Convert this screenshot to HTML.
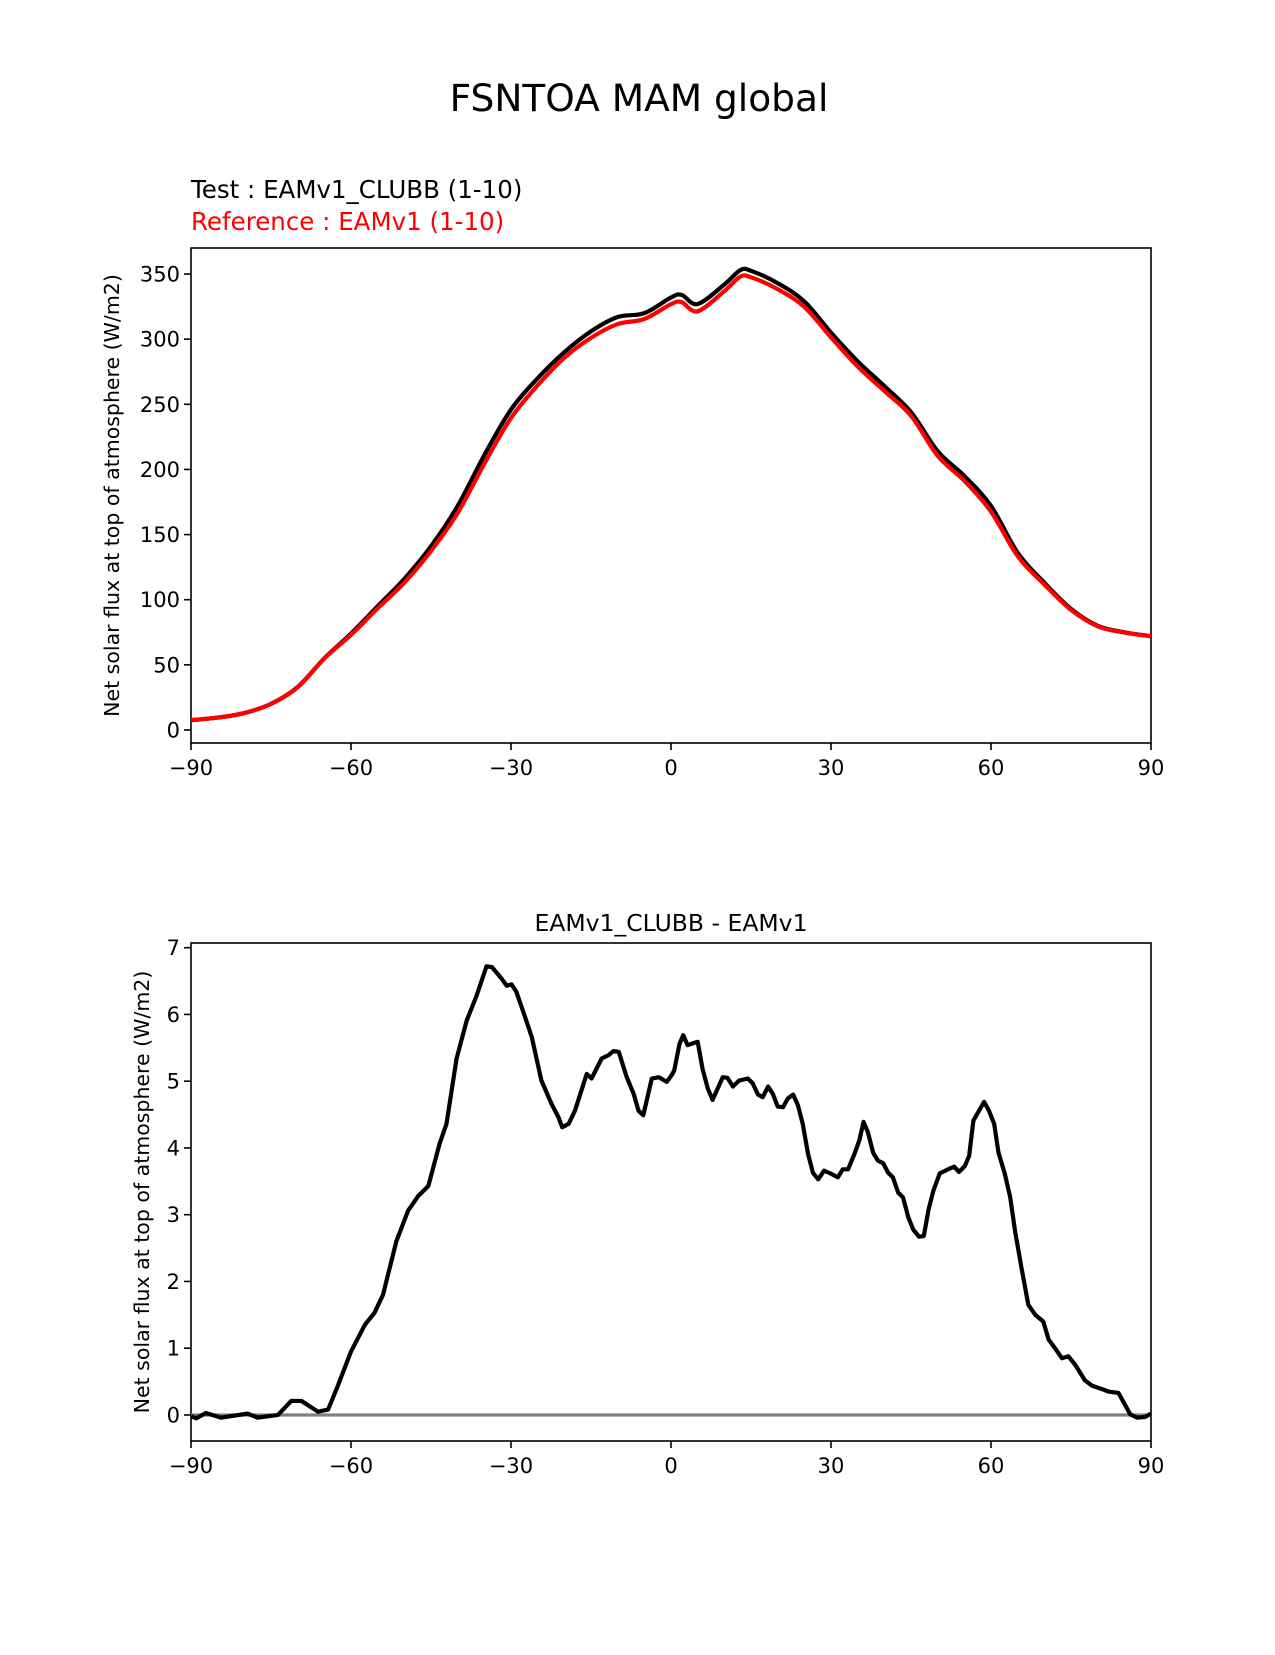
<!DOCTYPE html>
<html><head><meta charset="utf-8"><style>
html,body{margin:0;padding:0;background:#fff}
svg text{font-family:"DejaVu Sans","Liberation Sans",sans-serif}
</style></head><body>
<svg id="fig" width="1275" height="1650" viewBox="0 0 1275 1650" xmlns="http://www.w3.org/2000/svg">
<rect width="1275" height="1650" fill="#fff"/>
<text x="639" y="111" font-size="37.5" text-anchor="middle">FSNTOA MAM global</text>
<text x="191" y="198" font-size="24.5" fill="#000">Test : EAMv1_CLUBB (1-10)</text>
<text x="191" y="230" font-size="24.5" fill="#f00">Reference : EAMv1 (1-10)</text>
<text x="671" y="931" font-size="23.5" text-anchor="middle">EAMv1_CLUBB - EAMv1</text>
<g id="top"></g>
<g id="bot"></g>
</svg>
<script>
const latTop = [-90,-85,-80,-75,-70,-65,-60,-55,-50,-45,-40,-35,-30,-25,-20,-15,-10,-5,0,2,5,10,13,15,20,25,30,35,40,45,50,55,60,65,70,75,80,85,90];
const testVals = [7.5,9.5,13,20,33,55,74,95,116,141,172,211,246,270,290,306,317,320,332,334,327,342,353,352.5,343,329,305,283,264,244,214,195,172,136,113,93,80,75,72];
const refVals = [7.5,9.5,13,20,32.8,54.9,73.0,93.4,113.1,137.4,166.6,204.4,239.5,264.6,285.7,301.0,311.6,315.5,326.9,328.4,321.4,336.9,348.0,347.5,338.4,324.8,301.4,279.0,260.3,241.2,210.5,191.3,167.6,133.5,111.7,92.2,79.6,74.8,72.0];
const latDiff = [-90,-89,-87.2,-84.4,-79.4,-77.5,-73.7,-71.2,-69.3,-66.2,-64.3,-62.4,-60,-57.4,-55.6,-54,-51.5,-49.3,-47.4,-45.5,-43.4,-42.1,-40.2,-38.3,-36.5,-34.6,-33.6,-31.8,-30.8,-29.9,-29,-27.7,-26.1,-24.3,-22.4,-21.1,-20.4,-19.2,-18,-15.8,-14.9,-13,-11.7,-10.8,-9.8,-8.3,-7,-6.1,-5.2,-3.6,-2.3,-0.8,0.2,0.6,1.6,2.3,3.1,5,5.9,6.9,7.8,9.7,10.6,11.6,12.8,14.4,15.3,16.3,17.2,18.2,19.1,20,21,21.9,22.9,23.8,24.7,25.7,26.6,27.6,28.7,30.1,31.3,32.2,33.2,34.4,35.3,36.1,36.9,37.9,38.8,39.8,40.7,41.6,42.6,43.5,44.5,45.4,46.5,47.4,48.3,49.2,50.4,51.7,53.1,54,55.1,55.9,56.7,58.7,59.6,60.6,61.4,62.6,63.6,64.5,65.7,67,68.3,69.8,70.8,72,73.3,74.5,75.8,77.6,78.9,81.1,82,83.9,84.8,86.1,87.4,88.9,90];
const diffVals = [-0.02,-0.05,0.03,-0.04,0.02,-0.04,0,0.21,0.21,0.05,0.08,0.45,0.95,1.35,1.53,1.8,2.6,3.06,3.28,3.43,4.06,4.36,5.34,5.91,6.27,6.72,6.71,6.54,6.43,6.45,6.34,6.04,5.66,5.01,4.66,4.46,4.31,4.36,4.56,5.11,5.04,5.34,5.39,5.45,5.44,5.06,4.81,4.56,4.49,5.04,5.06,4.99,5.1,5.16,5.56,5.69,5.54,5.59,5.19,4.89,4.72,5.06,5.05,4.92,5.01,5.04,4.97,4.8,4.76,4.92,4.81,4.62,4.61,4.74,4.8,4.64,4.36,3.91,3.63,3.53,3.66,3.61,3.56,3.68,3.68,3.91,4.11,4.39,4.24,3.93,3.81,3.77,3.63,3.56,3.33,3.26,2.96,2.78,2.67,2.68,3.08,3.36,3.62,3.67,3.72,3.64,3.73,3.88,4.41,4.69,4.56,4.36,3.93,3.61,3.26,2.76,2.21,1.65,1.5,1.4,1.13,1.0,0.85,0.88,0.75,0.52,0.44,0.38,0.35,0.33,0.2,0.01,-0.04,-0.03,0.02];
const xTicks = [-90,-60,-30,0,30,60,90];
const xTickLabels = ["\u221290","\u221260","\u221230","0","30","60","90"];
const yTicksTop = [0,50,100,150,200,250,300,350];
const yTicksBot = [0,1,2,3,4,5,6,7];

const NS = "http://www.w3.org/2000/svg";
function mk(parent, tag, attrs){const e=document.createElementNS(NS,tag);for(const k in attrs)e.setAttribute(k,attrs[k]);parent.appendChild(e);return e;}

function drawPanel(g, L, T, R, B, ymin, ymax, yTicks, yLabelX, prefix){
  const sx = v => L + (v + 90) / 180 * (R - L);
  const sy = v => B - (v - ymin) / (ymax - ymin) * (B - T);
  const frame = mk(g,'rect',{x:L,y:T,width:R-L,height:B-T,fill:'none',stroke:'#000','stroke-width':1.6});
  
  
  xTicks.forEach((t,i)=>{
    const x = sx(t);
    const tk = mk(g,'line',{x1:x,x2:x,y1:B,y2:B+7,stroke:'#000','stroke-width':1.6});
    
    
    const tx = mk(g,'text',{x:x,y:B+32,'font-size':21,'text-anchor':'middle'});
    tx.textContent = xTickLabels[i];
    
    
  });
  yTicks.forEach(t=>{
    const y = sy(t);
    const tk = mk(g,'line',{x1:L-7,x2:L,y1:y,y2:y,stroke:'#000','stroke-width':1.6});
    
    
    const tx = mk(g,'text',{x:L-11,y:y+7.5,'font-size':21,'text-anchor':'end'});
    tx.textContent = String(t);
    
    
  });
  const cy = (T+B)/2;
  const yl = mk(g,'text',{x:yLabelX,y:cy,'font-size':20.5,'text-anchor':'middle',transform:`rotate(-90 ${yLabelX} ${cy})`});
  yl.textContent = 'Net solar flux at top of atmosphere (W/m2)';
  
  
  return {sx, sy};
}
function line(g, xs, ys, sx, sy, color, w, name, smooth){
  const P = xs.map((x,i)=>[sx(x), sy(ys[i])]);
  let d = 'M' + P[0][0].toFixed(2) + ' ' + P[0][1].toFixed(2);
  for (let i = 1; i < P.length; i++) {
    if (smooth) {
      const p0 = P[Math.max(0,i-2)], p1 = P[i-1], p2 = P[i], p3 = P[Math.min(P.length-1,i+1)];
      const c1x = p1[0] + (p2[0]-p0[0])/6, c1y = p1[1] + (p2[1]-p0[1])/6;
      const c2x = p2[0] - (p3[0]-p1[0])/6, c2y = p2[1] - (p3[1]-p1[1])/6;
      d += ` C${c1x.toFixed(2)} ${c1y.toFixed(2)} ${c2x.toFixed(2)} ${c2y.toFixed(2)} ${p2[0].toFixed(2)} ${p2[1].toFixed(2)}`;
    } else {
      d += ` L${P[i][0].toFixed(2)} ${P[i][1].toFixed(2)}`;
    }
  }
  const p = mk(g,'path',{d:d,fill:'none',stroke:color,'stroke-width':w,'stroke-linejoin':'round','stroke-linecap':'butt'});
  
  
  return p;
}

// top panel
const gt = document.getElementById('top');
const cp1 = mk(document.getElementById('fig'),'clipPath',{id:'c1'});
mk(cp1,'rect',{x:191,y:248,width:960,height:495});
const a = drawPanel(gt,191,248,1151,743,-10,370,yTicksTop,119,'top');
const lt = line(gt, latTop, testVals, a.sx, a.sy, '#000', 4.2, 'test-series-line', true);
lt.setAttribute('clip-path','url(#c1)');
const lr = line(gt, latTop, refVals, a.sx, a.sy, '#f00', 4.2, 'reference-series-line', true);
lr.setAttribute('clip-path','url(#c1)');

// bottom panel
const gb = document.getElementById('bot');
const cp2 = mk(document.getElementById('fig'),'clipPath',{id:'c2'});
mk(cp2,'rect',{x:191,y:943,width:960,height:498});
const b = drawPanel(gb,191,943,1151,1441,-0.39,7.07,yTicksBot,149,'bottom');
const zl = mk(gb,'line',{x1:b.sx(-90),x2:b.sx(90),y1:b.sy(0),y2:b.sy(0),stroke:'#808080','stroke-width':3.2});


const ld = line(gb, latDiff, diffVals, b.sx, b.sy, '#000', 4.2, 'difference-series-line', false);
ld.setAttribute('clip-path','url(#c2)');
</script>
</body></html>
